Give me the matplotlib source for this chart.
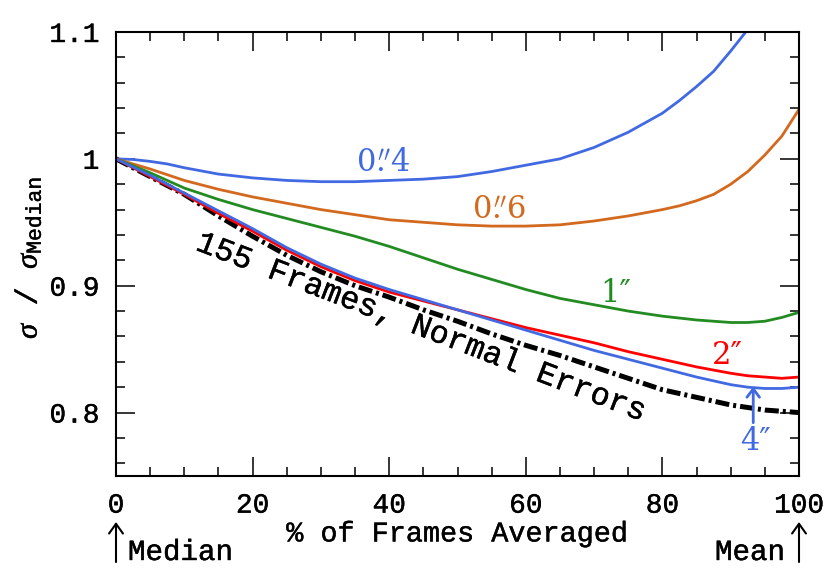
import matplotlib
matplotlib.use("Agg")
import matplotlib.pyplot as plt
import matplotlib.patheffects as pe
from matplotlib.ticker import MultipleLocator, FuncFormatter

# ---------------- data ----------------
x_ne = [0, 5, 10, 15, 20, 25, 30, 35, 40, 45, 50, 55, 60, 65, 70, 75, 80,
        82.5, 85, 87.5, 90, 92.5, 95, 97.5, 100]
normal_errors = [1.000, 0.986, 0.972, 0.955, 0.939, 0.924, 0.911, 0.900, 0.891, 0.881, 0.872,
                 0.862, 0.853, 0.845, 0.836, 0.827, 0.818,
                 0.815, 0.812, 0.809, 0.806, 0.804, 0.802, 0.801, 0.800]

x_04 = [0, 2.5, 5, 7.5, 10, 15, 20, 25, 30, 35, 40, 45, 50, 55, 60, 65, 70, 75, 80,
        82.5, 85, 87.5, 90, 92.2]
seeing_04 = [1.000, 0.9995, 0.998, 0.996, 0.993, 0.988, 0.985, 0.983, 0.982, 0.982, 0.983,
             0.984, 0.986, 0.990, 0.995, 1.000, 1.009, 1.021, 1.036,
             1.046, 1.057, 1.069, 1.085, 1.100]

x_06 = [0, 5, 10, 15, 20, 25, 30, 35, 40, 45, 50, 55, 60, 65, 70, 75, 80,
        82.5, 85, 87.5, 90, 92.5, 95, 97.5, 100]
seeing_06 = [1.000, 0.992, 0.983, 0.976, 0.970, 0.965, 0.960, 0.956, 0.952, 0.950, 0.948,
             0.947, 0.947, 0.948, 0.951, 0.955, 0.960,
             0.963, 0.967, 0.972, 0.980, 0.990, 1.003, 1.018, 1.039]

x_1 = [0, 5, 10, 15, 20, 25, 30, 35, 40, 45, 50, 55, 60, 65, 70, 75, 80,
       85, 87.5, 90, 92.5, 95, 97.5, 100]
seeing_1 = [1.000, 0.989, 0.977, 0.968, 0.960, 0.953, 0.946, 0.939, 0.931, 0.922, 0.913,
            0.905, 0.897, 0.890, 0.885, 0.880, 0.876,
            0.873, 0.872, 0.871, 0.871, 0.872, 0.875, 0.879]

x_2 = [0, 5, 10, 15, 20, 25, 30, 35, 40, 45, 50, 55, 60, 65, 70, 75, 80,
       85, 90, 92.5, 95, 97.5, 100]
seeing_2 = [1.000, 0.986, 0.972, 0.957, 0.943, 0.928, 0.915, 0.904, 0.895, 0.888, 0.881,
            0.874, 0.867, 0.861, 0.855, 0.848, 0.842,
            0.836, 0.831, 0.829, 0.828, 0.827, 0.828]

x_4 = [0, 5, 10, 15, 20, 25, 30, 35, 40, 45, 50, 55, 60, 65, 70, 75, 80,
       85, 90, 92.5, 95, 97.5, 100]
seeing_4 = [1.000, 0.987, 0.973, 0.959, 0.945, 0.930, 0.917, 0.906, 0.897, 0.889, 0.881,
            0.873, 0.865, 0.857, 0.849, 0.842, 0.835,
            0.828, 0.822, 0.820, 0.819, 0.819, 0.820]

x_ticks = [0, 20, 40, 60, 80, 100]
y_ticks = [0.8, 0.9, 1.0, 1.1]

# ---------------- style ----------------
MONO = "Liberation Mono"
plt.rcParams["font.family"] = [MONO, "DejaVu Sans"]
plt.rcParams["mathtext.fontset"] = "custom"
plt.rcParams["mathtext.rm"] = MONO
plt.rcParams["mathtext.it"] = "Liberation Serif:italic"

BLUE = "#4169E1"
ORANGE = "#D2691E"
GREEN = "#228B22"
RED = "#FF0000"

heavy = [pe.withStroke(linewidth=0.3, foreground="black")]

fig = plt.figure(figsize=(8.3, 5.76), dpi=100)
ax = fig.add_axes([116 / 830, 1 - 476 / 576, (799 - 116) / 830, (476 - 32) / 576])

ax.plot(x_ne, normal_errors, color="black", lw=3.6, dash_capstyle="butt",
        linestyle=(0, (2.8, 0.8, 0.6, 0.8)))
ax.plot(x_04, seeing_04, color=BLUE, lw=2.0)
ax.plot(x_06, seeing_06, color=ORANGE, lw=2.0)
ax.plot(x_1, seeing_1, color=GREEN, lw=2.0)
ax.plot(x_2, seeing_2, color=RED, lw=2.0)
ax.plot(x_4, seeing_4, color=BLUE, lw=2.0)

ax.set_xlim(0, 100)
ax.set_ylim(0.75, 1.1)

ax.xaxis.set_minor_locator(MultipleLocator(5))
ax.yaxis.set_minor_locator(MultipleLocator(0.02))
ax.set_xticks(x_ticks)
ax.set_yticks(y_ticks)
ax.yaxis.set_major_formatter(FuncFormatter(lambda v, p: "%g" % round(v, 2)))
ax.tick_params(which="both", direction="in", top=True, right=True, width=1.1, color="black")
ax.tick_params(which="major", length=13.5, labelsize=20)
ax.tick_params(which="minor", length=6.7)
ax.tick_params(axis="x", which="major", pad=12)
ax.tick_params(axis="y", which="major", pad=12)
for s in ax.spines.values():
    s.set_linewidth(1.5)
for lbl in ax.get_xticklabels() + ax.get_yticklabels():
    lbl.set_path_effects(heavy)

ax.set_xlabel("% of Frames Averaged", fontsize=20.5, labelpad=2, path_effects=heavy)

fig.text(28 / 830, 1 - 258 / 576, r"$\sigma$ / $\sigma_{\mathrm{Median}}$",
         rotation=90, fontsize=22, ha="center", va="center", path_effects=heavy)

# curve labels
lab_kw = dict(fontsize=22, ha="center", va="center", family="DejaVu Serif",
              math_fontfamily="dejavuserif")
ax.text(39.2, 0.997, r"$0\overset{\prime\prime}{.}4$", color=BLUE, **lab_kw)
ax.text(56.1, 0.960, r"$0\overset{\prime\prime}{.}6$", color=ORANGE, **lab_kw)
ax.text(73.1, 0.894, "1\u2033", color=GREEN, **lab_kw)
ax.text(89.5, 0.845, "2\u2033", color=RED, **lab_kw)
ax.text(93.6, 0.777, "4\u2033", color=BLUE, **lab_kw)
ax.annotate("", xy=(93.3, 0.8205), xytext=(93.3, 0.792),
            arrowprops=dict(arrowstyle="->,head_length=0.6,head_width=0.45",
                            color=BLUE, lw=2.0, shrinkA=0, shrinkB=0))

ax.text(44.8, 0.8665, "155 Frames, Normal Errors", rotation=-21, fontsize=23,
        ha="center", va="center", rotation_mode="anchor", path_effects=heavy)

# Median / Mean arrows below axis
arr = dict(arrowstyle="->,head_length=0.7,head_width=0.5", color="black", lw=1.5,
           shrinkA=0, shrinkB=0)
for xv in (0, 100):
    ax.annotate("", xy=(xv, 1 - 522 / 576), xycoords=("data", "figure fraction"),
                xytext=(xv, 1 - 562 / 576), textcoords=("data", "figure fraction"),
                arrowprops=arr, annotation_clip=False)
fig.text(128 / 830, 1 - 552 / 576, "Median", fontsize=21, ha="left", va="center",
         path_effects=heavy)
fig.text(785 / 830, 1 - 552 / 576, "Mean", fontsize=21, ha="right", va="center",
         path_effects=heavy)

fig.savefig("out.png", dpi=100)
